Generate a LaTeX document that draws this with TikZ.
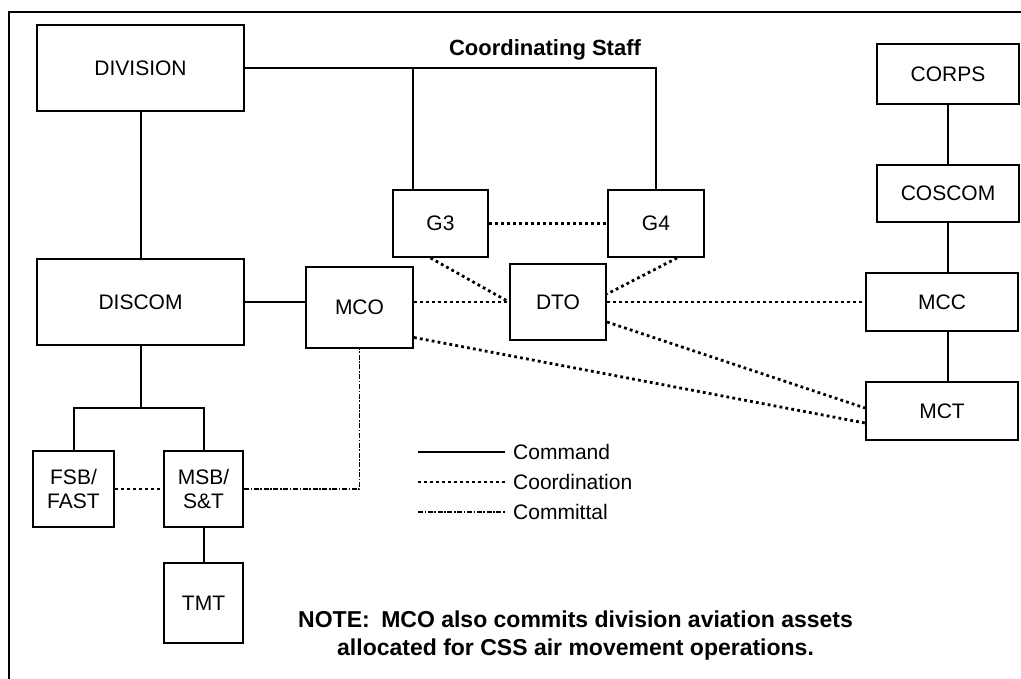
\documentclass[tikz,border=0pt]{standalone}
\usepackage{fontspec}
\setmainfont{Liberation Sans}
\begin{document}
\begin{tikzpicture}[x=1pt,y=-1pt,
  box/.style={draw, line width=2pt, inner sep=0pt, align=center,
              font=\fontsize{21}{24}\selectfont},
  cmd/.style={line width=2pt},
  coord/.style={line width=2.8pt, dash pattern=on 2.8pt off 3.2pt},
  cmt/.style={line width=1.8pt, dash pattern=on 5pt off 1.6pt on 1.6pt off 1.6pt},
  lbl/.style={font=\fontsize{21}{24}\selectfont, inner sep=0pt}]
\useasboundingbox (0,0) rectangle (1021,679);

% frame
\draw[line width=1.6pt] (9,679) -- (9,12) -- (1021,12);

% units
\node[box, minimum width=207pt, minimum height=86pt] (div)    at (140.5,68)  {DIVISION};
\node[box, minimum width=207pt, minimum height=86pt] (discom) at (140.5,302) {DISCOM};
\node[box, minimum width=107pt, minimum height=81pt] (mco)    at (359.5,307.5) {MCO};
\node[box, minimum width=96pt,  minimum height=76pt] (dto)    at (558,302)   {DTO};
\node[box, minimum width=95pt,  minimum height=67pt] (g3)     at (440.5,223.5) {G3};
\node[box, minimum width=96pt,  minimum height=67pt] (g4)     at (656,223.5) {G4};
\node[box, minimum width=142pt, minimum height=60pt] (corps)  at (948,74)    {CORPS};
\node[box, minimum width=142pt, minimum height=57pt] (coscom) at (948,193.5) {COSCOM};
\node[box, minimum width=152pt, minimum height=58pt] (mcc)    at (942,302)   {MCC};
\node[box, minimum width=152pt, minimum height=58pt] (mct)    at (942,411)   {MCT};
\node[box, minimum width=81pt,  minimum height=76pt] (fsb)    at (73.5,489)  {FSB/\\FAST};
\node[box, minimum width=79pt,  minimum height=76pt] (msb)    at (203.5,489) {MSB/\\S\&T};
\node[box, minimum width=79pt,  minimum height=80pt] (tmt)    at (203.5,603) {TMT};

% coordinating staff
\node[lbl, font=\fontsize{22}{24}\selectfont\bfseries] (cstitle) at (545,50) {Coordinating Staff};
\draw[cmd] (div.east) -- (g4.north |- div.east) -- (g4.north);
\draw[cmd] ([xshift=-27.5pt]g3.north) -- ([xshift=-27.5pt]g3.north |- div.east);
\draw[coord] (g3.east) -- (g4.west);
\draw[coord] ([xshift=-10pt]g3.south) -- (dto.west);
\draw[coord] ([xshift=21pt]g4.south) -- ([yshift=8pt]dto.east);

% division support command
\draw[cmd] (div.south) -- (discom.north);
\draw[cmd] (discom.east) -- (discom.east -| mco.west);
\draw[coord] (discom.east -| mco.east) -- (dto.west);
\draw[coord] (dto.east) -- (mcc.west);
\draw[coord] ([yshift=-30pt]mco.east) -- ([yshift=-12pt]mct.west);
\draw[coord] ([yshift=-20pt]dto.east) -- ([yshift=3pt]mct.west);

% corps chain
\draw[cmd] (corps.south) -- (coscom.north);
\draw[cmd] (coscom.south) -- (coscom.south |- mcc.north);
\draw[cmd] (mcc.south -| coscom.south) -- (mct.north -| coscom.south);

% support battalions
\coordinate (br) at (140.5,408);
\draw[cmd] (discom.south) -- (br);
\draw[cmd] (fsb.north) -- (fsb.north |- br) -- (msb.north |- br) -- (msb.north);
\draw[coord] (fsb.east) -- (msb.west);
\draw[cmt] (msb.east) -- (msb.east -| mco.south) -- (mco.south);
\draw[cmd] (msb.south) -- (tmt.north);

% legend
\coordinate (l1a) at (418,452); \coordinate (l1b) at (505,452);
\coordinate (l2a) at (418,482); \coordinate (l2b) at (505,482);
\coordinate (l3a) at (418,512); \coordinate (l3b) at (505,512);
\draw[cmd] (l1a) -- (l1b);
\draw[coord] (l2a) -- (l2b);
\draw[cmt] (l3a) -- (l3b);
\node[lbl, anchor=west] (t1) at (513,452) {Command};
\node[lbl, anchor=west] (t2) at (513,482) {Coordination};
\node[lbl, anchor=west] (t3) at (513,512) {Committal};

% note
\node[lbl, anchor=base west, font=\fontsize{23}{26}\selectfont\bfseries] (n1) at (298,627)
  {NOTE:\hspace{0.5em}MCO also commits division aviation assets};
\node[lbl, anchor=base west, font=\fontsize{23}{26}\selectfont\bfseries] (n2) at (337,655)
  {allocated for CSS air movement operations.};
\end{tikzpicture}
\end{document}
